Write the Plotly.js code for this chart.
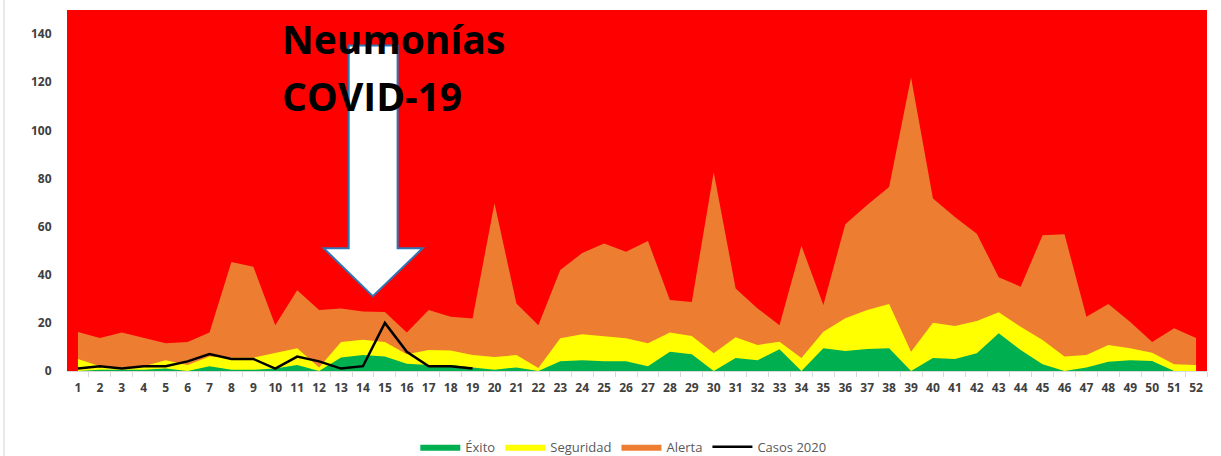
<!DOCTYPE html>
<html>
<head>
<meta charset="utf-8">
<script src="https://cdn.plot.ly/plotly-3.0.1.min.js"></script>
<style>html,body{margin:0;padding:0;background:#fff;}#chart{width:1221px;height:456px;}</style>
</head>
<body>
<div id="chart"></div>
<script>
const weeks = Array.from({length: 52}, (_, i) => i + 1);
const weekLabels = weeks.map(String);

const exito = [0,0.5,0.5,0.5,1,0,2,0.5,0.5,1,2.5,0,5.6,6.7,6,3,2.5,2.5,1.5,0.5,1.5,0,4,4.5,4,4,2,8,7,0,5.4,4.5,9,0,9.5,8.3,9.1,9.5,0,5.4,5,7.4,15.7,8.7,2.8,0,1.5,3.8,4.5,4.2,0,0];
const seguridad = [5,2,1.5,2,4.5,2.5,6,5.5,5.5,7.4,9.5,1.5,12,13,12,7,8.7,8.5,6.6,5.8,6.6,1.2,13.6,15.3,14.5,13.6,11.5,16,14.5,7.4,14,10.8,12.2,5.4,16.3,21.9,25.3,27.8,8,20,18.7,20.8,24.4,18.4,12.9,6,6.6,10.8,9.5,7.6,2.8,2.5];
const alerta = [16.2,13.7,16,13.7,11.5,12,16,45.3,43.3,19,33.6,25.3,26,24.7,24.5,16,25.3,22.5,21.8,69.7,28,19,42,49,53,49.5,54,29.5,28.7,82.6,34.3,26,19,52,27.4,61,69,76.5,122,71.7,64,57,39,35,56.4,56.8,22.5,27.8,20.4,12,17.8,13.7];
const casosWeeks = weeks.slice(0, 19);
const casos2020 = [1,2,1,2,2,4,7,5,5,1,6,4,1,2,20,8,2,2,1];

const traces = [
  {x: weeks, y: alerta, name: 'Alerta', type: 'scatter', mode: 'lines', fill: 'tozeroy',
   fillcolor: '#ED7D31', line: {width: 0, color: '#ED7D31'}, legendrank: 3, hoverinfo: 'y'},
  {x: weeks, y: seguridad, name: 'Seguridad', type: 'scatter', mode: 'lines', fill: 'tozeroy',
   fillcolor: '#FFFF00', line: {width: 0, color: '#FFFF00'}, legendrank: 2, hoverinfo: 'y'},
  {x: weeks, y: exito, name: 'Éxito', type: 'scatter', mode: 'lines', fill: 'tozeroy',
   fillcolor: '#00B050', line: {width: 0, color: '#00B050'}, legendrank: 1, hoverinfo: 'y'},
  {x: casosWeeks, y: casos2020, name: 'Casos 2020', type: 'scatter', mode: 'lines',
   line: {width: 2.5, color: '#000000'}, legendrank: 4}
];

const layout = {
  width: 1221, height: 456,
  margin: {l: 67, r: 14, t: 10, b: 85, autoexpand: false},
  paper_bgcolor: '#ffffff',
  plot_bgcolor: '#FF0000',
  showlegend: true,
  legend: {orientation: 'h', x: 0.488, xanchor: 'center', y: -0.21, yanchor: 'middle',
           font: {family: 'Open Sans, sans-serif', size: 13, color: '#595959'}, itemwidth: 40, tracegroupgap: 0},
  xaxis: {
    range: [0.5, 52.5], tickvals: weeks, ticktext: weekLabels, showgrid: false, zeroline: false,
    ticks: 'outside', ticklen: 6, tickcolor: 'rgba(0,0,0,0)',
    tickfont: {family: 'Open Sans, sans-serif', size: 12, color: '#404040', weight: 'bold'},
    showline: true, linecolor: '#d9d9d9', linewidth: 1,
    minor: {tickvals: weeks.map(w => w + 0.5), ticks: 'outside', ticklen: 5, tickcolor: '#d9d9d9'}
  },
  yaxis: {
    range: [0, 150], tickvals: [0,20,40,60,80,100,120,140], showgrid: false, zeroline: false,
    ticks: 'outside', ticklen: 12, tickcolor: 'rgba(0,0,0,0)',
    tickfont: {family: 'Open Sans, sans-serif', size: 12, color: '#404040', weight: 'bold'}
  },
  shapes: [
    {type: 'path', xref: 'x', yref: 'y',
     path: 'M 13.35 135.3 L 15.58 135.3 L 15.58 51 L 16.72 51 L 14.45 31.1 L 12.21 51 L 13.35 51 Z',
     fillcolor: '#ffffff', line: {color: '#2E75B6', width: 2}},
    {type: 'line', xref: 'paper', yref: 'paper', x0: -0.0553, x1: -0.0553, y0: -0.24, y1: 1.03,
     line: {color: '#e3e3e3', width: 1.5}}
  ],
  annotations: [
    {text: '<b>Neumonías</b>', xref: 'paper', yref: 'paper', x: 0.1865, y: 0.92, xanchor: 'left', yanchor: 'middle',
     showarrow: false, font: {family: 'Open Sans, sans-serif', size: 39, color: '#000000'}},
    {text: '<b>COVID-19</b>', xref: 'paper', yref: 'paper', x: 0.1865, y: 0.764, xanchor: 'left', yanchor: 'middle',
     showarrow: false, font: {family: 'Open Sans, sans-serif', size: 39, color: '#000000'}}
  ]
};

Plotly.newPlot('chart', traces, layout, {displayModeBar: false, staticPlot: true});
</script>
</body>
</html>
